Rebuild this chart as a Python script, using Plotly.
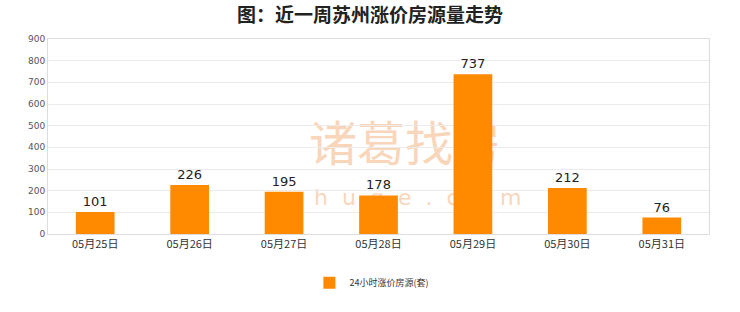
import plotly.graph_objects as go

categories = ["05月25日", "05月26日", "05月27日", "05月28日", "05月29日", "05月30日", "05月31日"]
values = [101, 226, 195, 178, 737, 212, 76]
series_name = "24小时涨价房源(套)"
y_ticks = [0, 100, 200, 300, 400, 500, 600, 700, 800, 900]

FONT = "Noto Sans CJK SC"

fig = go.Figure()
fig.add_trace(go.Bar(
    x=categories, y=values, name=series_name,
    marker=dict(color="#FF8A00", line=dict(width=0)),
    width=0.41,
    text=[str(v) for v in values], textposition="outside",
    textfont=dict(family="DejaVu Sans", size=13, color="#222222"),
    cliponaxis=False,
))

fig.update_layout(
    width=740, height=312,
    margin=dict(l=48, r=31, t=39, b=78),
    paper_bgcolor="white", plot_bgcolor="white",
    title=dict(text="<b>图：近一周苏州涨价房源量走势</b>", x=0.5, xanchor="center",
               y=0.95, yanchor="middle",
               font=dict(family=FONT, size=19, color="#222222")),
    showlegend=True,
    legend=dict(orientation="h", x=0.49, xanchor="center", y=-0.25, yanchor="middle",
                font=dict(family=FONT, size=9, color="#333333"),
                itemsizing="constant", itemwidth=30),
    bargap=0.59,
    font=dict(family=FONT),
)
fig.update_xaxes(
    showline=True, linecolor="#dddddd", linewidth=1, mirror=True,
    ticks="", showgrid=False,
    tickfont=dict(family=FONT, size=11, color="#333333"),
)
fig.update_yaxes(
    range=[0, 900], tickvals=y_ticks,
    showline=True, linecolor="#dddddd", linewidth=1, mirror=True,
    gridcolor="#ebebeb", gridwidth=1, zeroline=False,
    tickfont=dict(family="DejaVu Sans", size=9, color="#555555"),
    ticks="", ticklen=0,
)

# watermark below the traces
fig.add_shape(type="rect", xref="paper", yref="paper", x0=0.34, x1=0.74, y0=0.3, y1=0.58,
              layer="below", line=dict(width=0), fillcolor="rgba(0,0,0,0)",
              label=dict(text="诸葛找房", font=dict(family=FONT, size=48, color="rgba(245,185,140,0.6)"),
                         textposition="middle center"))
fig.add_shape(type="rect", xref="paper", yref="paper", x0=0.34, x1=0.74, y0=0.1, y1=0.3,
              layer="below", line=dict(width=0), fillcolor="rgba(0,0,0,0)",
              label=dict(text="z  h  u  g  e  .  c  o  m", font=dict(family="DejaVu Sans", size=22, color="rgba(245,185,140,0.6)"),
                         textposition="middle center"))

fig.write_html("out.html")
